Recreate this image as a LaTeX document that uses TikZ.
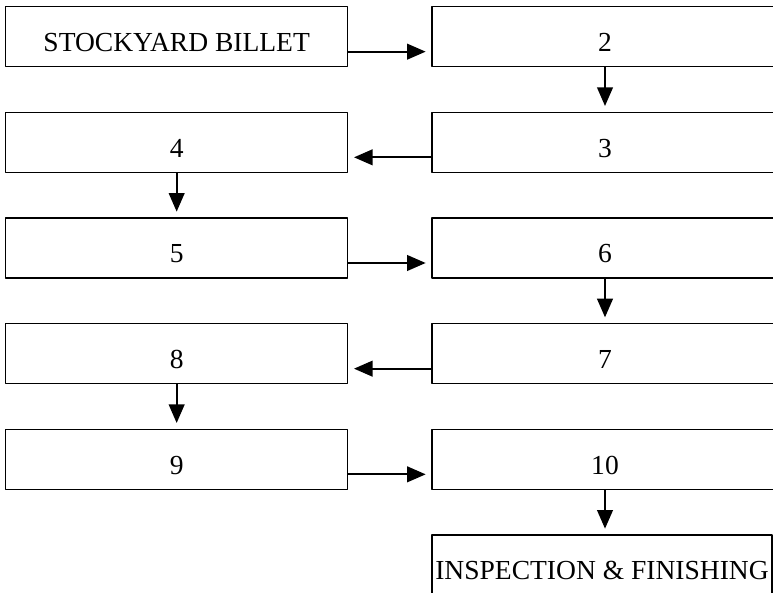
\documentclass[tikz,border=0pt]{standalone}
\usepackage{fontspec}
\setmainfont{Liberation Serif}
\usetikzlibrary{arrows.meta,positioning}
\tikzset{
  every picture/.style={line join=round, >=Stealth},
  procbox/.style={draw, line width=1.1pt, inner sep=0pt, minimum height=1.8cm,
    text height=1.1cm, text depth=0.2cm, font=\fontsize{23.5}{27}\selectfont},
  leftbox/.style={procbox, minimum width=10.26cm},
  rightbox/.style={procbox, minimum width=10.38cm},
  flow/.style={-{Triangle[length=0.56cm,width=0.47cm]}, line width=1.8pt, shorten >=0.17cm},
}
\begin{document}
\begin{tikzpicture}
\clip (0,0) rectangle (23.19,17.76);
% stages, snaking left/right
\node[leftbox] (billet) at (5.3,16.66) {STOCKYARD BILLET};
\node[rightbox] (s2) at (18.15,16.66) {2};
\node[rightbox] (s3) at (18.15,13.49) {3};
\node[leftbox] (s4) at (5.3,13.49) {4};
\node[leftbox] (s5) at (5.3,10.32) {5};
\node[rightbox] (s6) at (18.15,10.32) {6};
\node[rightbox] (s7) at (18.15,7.15) {7};
\node[leftbox] (s8) at (5.3,7.15) {8};
\node[leftbox] (s9) at (5.3,3.98) {9};
\node[rightbox] (s10) at (18.15,3.98) {10};
\node[procbox, minimum width=10.2cm] (finish) at (18.06,0.81) {INSPECTION \& FINISHING};
% across
\draw[flow] ([yshift=-0.45cm]billet.east) -- ([yshift=-0.45cm]s2.west);
\draw[flow] ([yshift=-0.45cm]s3.west) -- ([yshift=-0.45cm]s4.east);
\draw[flow] ([yshift=-0.45cm]s5.east) -- ([yshift=-0.45cm]s6.west);
\draw[flow] ([yshift=-0.45cm]s7.west) -- ([yshift=-0.45cm]s8.east);
\draw[flow] ([yshift=-0.45cm]s9.east) -- ([yshift=-0.45cm]s10.west);
% down
\draw[flow] (s2) -- (s3);
\draw[flow] (s4) -- (s5);
\draw[flow] (s6) -- (s7);
\draw[flow] (s8) -- (s9);
\draw[flow] (s10.south) -- (s10.south |- finish.north);
\end{tikzpicture}
\end{document}
